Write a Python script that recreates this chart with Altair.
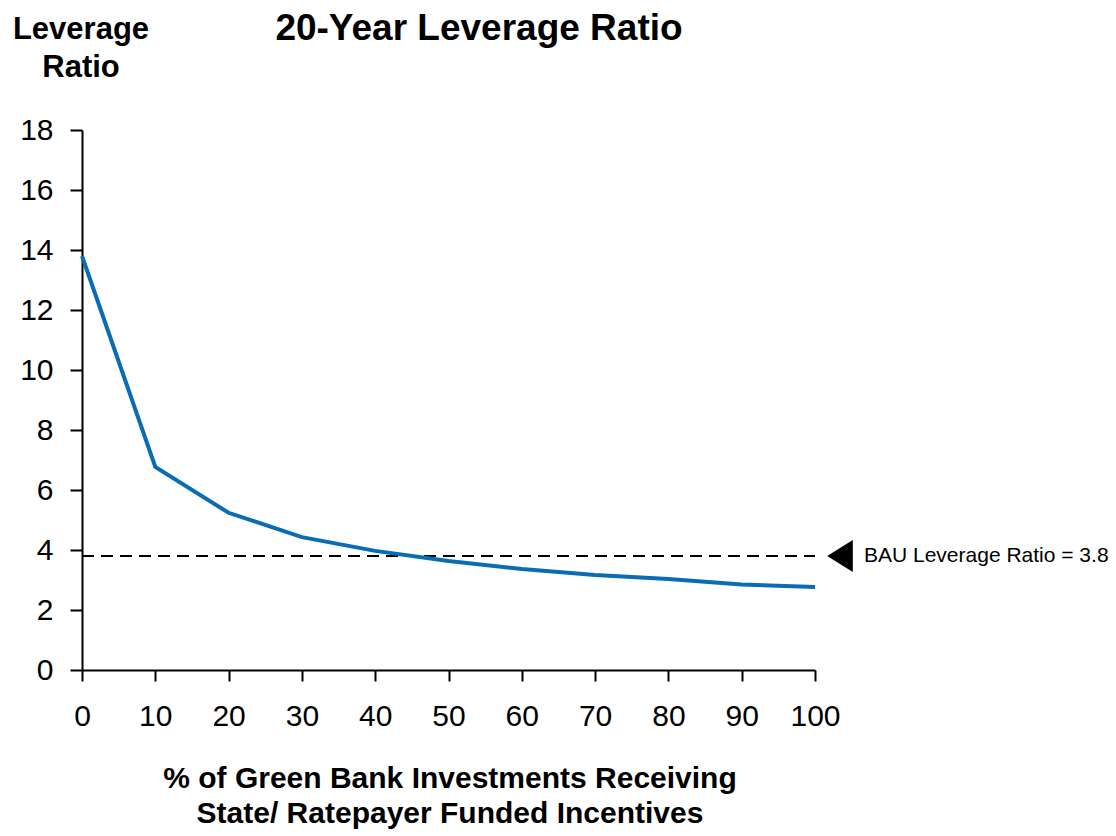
import altair as alt
import pandas as pd

# ---- data ----
pct = [0, 10, 20, 30, 40, 50, 60, 70, 80, 90, 100]
ratio = [13.8, 6.77, 5.24, 4.43, 3.97, 3.63, 3.37, 3.17, 3.03, 2.85, 2.77]
bau_value = 3.8
bau_label = "BAU Leverage Ratio = 3.8"
chart_title = "20-Year Leverage Ratio"
y_title_lines = ["Leverage", "Ratio"]
x_title_lines = ["% of Green Bank Investments Receiving",
                 "State/ Ratepayer Funded Incentives"]
x_tick_values = [0, 10, 20, 30, 40, 50, 60, 70, 80, 90, 100]
y_tick_values = [0, 2, 4, 6, 8, 10, 12, 14, 16, 18]

W, H = 733, 540
FONT = "Liberation Sans"
BLUE = "#0A6CB4"

df = pd.DataFrame({"pct": pct, "ratio": ratio})
one = pd.DataFrame({"k": [0]})

x_scale = alt.Scale(domain=[0, 100], nice=False, zero=False)
y_scale = alt.Scale(domain=[0, 18], nice=False)

line = alt.Chart(df).mark_line(color=BLUE, strokeWidth=4).encode(
    x=alt.X("pct:Q", scale=x_scale,
            axis=alt.Axis(values=x_tick_values, title=None, grid=False,
                          domainColor="black", domainWidth=2,
                          tickColor="black", tickWidth=2, tickSize=11,
                          labelFont=FONT, labelFontSize=30, labelColor="black",
                          labelPadding=20, labelFlush=False)),
    y=alt.Y("ratio:Q", scale=y_scale,
            axis=alt.Axis(values=y_tick_values, title=None, grid=False,
                          domainColor="black", domainWidth=2,
                          tickColor="black", tickWidth=2, tickSize=12,
                          labelFont=FONT, labelFontSize=30, labelColor="black",
                          labelPadding=17, labelFlush=False)),
)

rule = alt.Chart(one).mark_rule(color="black", strokeWidth=2, strokeDash=[12, 7]).encode(
    y=alt.datum(bau_value, scale=y_scale),
    x=alt.value(0),
    x2=alt.value(W),
)

tri = alt.Chart(one).mark_point(
    shape="M-0.8,0L0.8,-1L0.8,1Z", filled=True, color="black", size=1024, opacity=1
).encode(
    y=alt.datum(bau_value, scale=y_scale),
    x=alt.value(758),
)

bau_text = alt.Chart(one).mark_text(
    text=bau_label, align="left", baseline="middle", font=FONT, fontSize=21, color="black"
).encode(
    y=alt.datum(bau_value, scale=y_scale),
    x=alt.value(782),
)

title_mark = alt.Chart(one).mark_text(
    text=chart_title, align="center", baseline="middle", font=FONT,
    fontSize=37, fontWeight="bold", color="black"
).encode(x=alt.value(397), y=alt.value(-101))

ytitle1 = alt.Chart(one).mark_text(
    text=y_title_lines[0], align="center", baseline="middle", font=FONT,
    fontSize=31, fontWeight="bold", color="black"
).encode(x=alt.value(-1), y=alt.value(-100))

ytitle2 = alt.Chart(one).mark_text(
    text=y_title_lines[1], align="center", baseline="middle", font=FONT,
    fontSize=31, fontWeight="bold", color="black"
).encode(x=alt.value(-1), y=alt.value(-62))

xtitle1 = alt.Chart(one).mark_text(
    text=x_title_lines[0], align="center", baseline="middle", font=FONT,
    fontSize=30, fontWeight="bold", color="black"
).encode(x=alt.value(368), y=alt.value(649))

xtitle2 = alt.Chart(one).mark_text(
    text=x_title_lines[1], align="center", baseline="middle", font=FONT,
    fontSize=30, fontWeight="bold", color="black"
).encode(x=alt.value(368), y=alt.value(684))

chart = alt.layer(
    rule, line, tri, bau_text, title_mark, ytitle1, ytitle2, xtitle1, xtitle2
).properties(
    width=W, height=H,
    autosize=alt.AutoSizeParams(type="none"),
    padding={"left": 82, "top": 130, "right": 296, "bottom": 166},
    background="white",
).configure_view(stroke=None)

chart.save("out.html", embed_options={"renderer": "svg", "actions": False})
